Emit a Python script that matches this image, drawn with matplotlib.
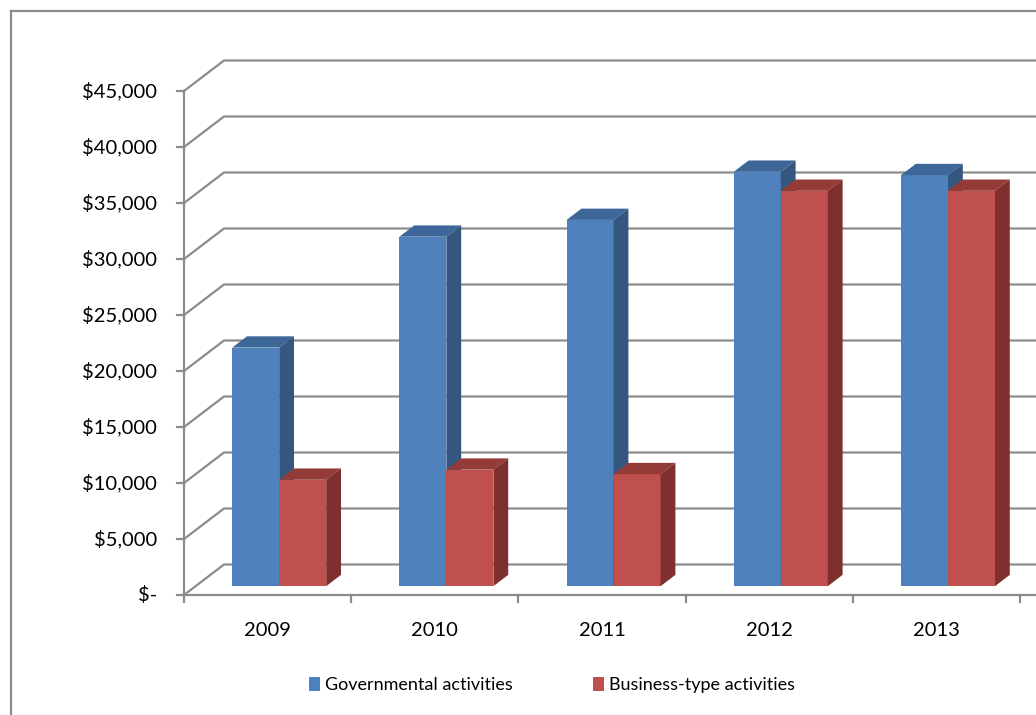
import matplotlib
matplotlib.use("Agg")
import matplotlib.pyplot as plt
from matplotlib.patches import Polygon, Patch
from matplotlib.lines import Line2D

# ---- data ---------------------------------------------------------------
years = ["2009", "2010", "2011", "2012", "2013"]
governmental = [21300, 31200, 32700, 37000, 36700]
business = [9500, 10400, 10000, 35300, 35300]
tick_values = [0, 5000, 10000, 15000, 20000, 25000, 30000, 35000, 40000, 45000]
tick_labels = ["$-", "$5,000", "$10,000", "$15,000", "$20,000",
               "$25,000", "$30,000", "$35,000", "$40,000", "$45,000"]
series_names = ["Governmental activities", "Business-type activities"]

# ---- style --------------------------------------------------------------
plt.rcParams["font.family"] = ["Lato", "DejaVu Sans"]
FS = 14.5
LEG_FS = 13
GRID = "#8c8c8c"
BLUE = ("#4f81bd", "#3d6799", "#34567f")   # front, top, side
RED = ("#c0504d", "#943a37", "#7f2f2d")

W, H = 1036, 715
fig = plt.figure(figsize=(W / 100, H / 100), dpi=100)
ax = fig.add_axes([0, 0, 1, 1])

# layout of the plot (pixel scale of one category / one value unit)
x0_px, cat_px = 184.0, 167.2
y0_px, val_px = 595.0, 56.0 / 5000.0
ax.set_xlim(-x0_px / cat_px, (W - x0_px) / cat_px)
ax.set_ylim(-(H - y0_px) / val_px, y0_px / val_px)
ax.axis("off")

# oblique depth projection
DX = 40.0 / cat_px
DY = 30.5 / val_px


def proj(x, v, d):
    return x + d * DX, v + d * DY


far = 7.0
# walls and gridlines
for v in tick_values:
    ax.plot([0, DX, far], [v, v + DY, v + DY], color=GRID, lw=1.6,
            solid_capstyle="butt", zorder=1)
ax.plot([0, 0], [0, tick_values[-1]], color=GRID, lw=1.6, zorder=2)
ax.plot([0, far], [0, 0], color=GRID, lw=1.6, zorder=2)

# y ticks and labels
tl_x = 7.0 / cat_px
for v, lab in zip(tick_values, tick_labels):
    ax.plot([-tl_x, 0], [v, v], color=GRID, lw=1.6, zorder=2)
    ax.text(-27.0 / cat_px, v, lab, ha="right", va="center", fontsize=FS,
            color="black")

# x ticks and labels
tl_y = 7.0 / val_px
for i in range(len(years) + 1):
    ax.plot([i, i], [0, -tl_y], color=GRID, lw=1.6, zorder=2)
for i, yr in enumerate(years):
    ax.text(i + 0.5, -36.0 / val_px, yr, ha="center", va="center",
            fontsize=FS, color="black")

# 3-D columns: front face at depth d0, back face at depth d1
d0, d1 = 0.29, 0.66
bw = 47.0 / cat_px
z = 10
for i in range(len(years)):
    center = i + 0.5   # category centre on the front edge
    for x_left, v, cols in ((center - bw, governmental[i], BLUE),
                            (center, business[i], RED)):
        fx, base = proj(x_left, 0, d0)
        ax.bar(fx, v, width=bw, bottom=base, align="edge",
               color=cols[0], lw=0, zorder=z)
        top = [proj(x_left, v, d0), proj(x_left + bw, v, d0),
               proj(x_left + bw, v, d1), proj(x_left, v, d1)]
        ax.add_patch(Polygon(top, closed=True, facecolor=cols[1], lw=0,
                             zorder=z + 1))
        side = [proj(x_left + bw, 0, d0), proj(x_left + bw, v, d0),
                proj(x_left + bw, v, d1), proj(x_left + bw, 0, d1)]
        ax.add_patch(Polygon(side, closed=True, facecolor=cols[2], lw=0,
                             zorder=z + 1))
        z += 2

# legend
handles = [Patch(facecolor=BLUE[0]), Patch(facecolor=RED[0])]
fig.legend(handles, series_names, loc="center",
           bbox_to_anchor=(552 / W, 1 - 685 / H), ncol=2, frameon=False,
           fontsize=LEG_FS, handlelength=0.62, handleheight=0.8,
           handletextpad=0.3, columnspacing=4.4)

# chart frame
fig.add_artist(Line2D([11 / W, 11 / W], [0, 1 - 11 / H], color="#8c8c8c",
                      lw=1.6, transform=fig.transFigure))
fig.add_artist(Line2D([11 / W, 1], [1 - 11 / H, 1 - 11 / H], color="#8c8c8c",
                      lw=1.6, transform=fig.transFigure))

fig.savefig("out.png", dpi=100, facecolor="white")
